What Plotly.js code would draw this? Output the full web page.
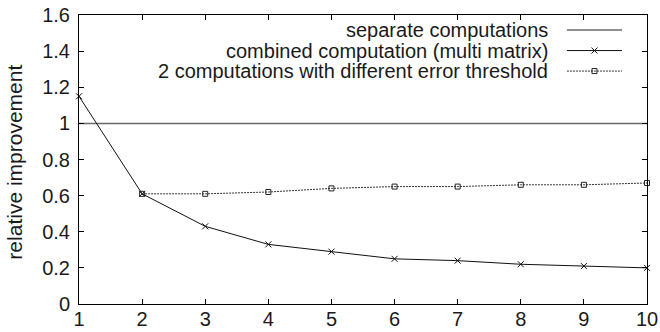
<!DOCTYPE html>
<html>
<head>
<meta charset="utf-8">
<script src="https://cdn.plot.ly/plotly-3.0.1.min.js"></script>
<style>
  html, body { margin: 0; padding: 0; background: #fff; }
  #chart { width: 660px; height: 332px; }
</style>
</head>
<body>
<div id="chart"></div>
<script>
// Number of matrices processed together
const matrices = [1, 2, 3, 4, 5, 6, 7, 8, 9, 10];

// Relative improvement for each strategy
const separate = [1, 1, 1, 1, 1, 1, 1, 1, 1, 1];
const combinedMulti = [1.15, 0.61, 0.43, 0.33, 0.29, 0.25, 0.24, 0.22, 0.21, 0.20];
const thresholdX = [2, 3, 4, 5, 6, 7, 8, 9, 10];
const twoThreshold = [0.61, 0.61, 0.62, 0.64, 0.65, 0.65, 0.66, 0.66, 0.67];

const seriesNames = [
  'separate computations',
  'combined computation (multi matrix)',
  '2 computations with different error threshold'
];

const xTicks = [1, 2, 3, 4, 5, 6, 7, 8, 9, 10];
const yTicks = [0, 0.2, 0.4, 0.6, 0.8, 1, 1.2, 1.4, 1.6];
const yTickText = ['0', '0.2', '0.4', '0.6', '0.8', '1', '1.2', '1.4', '1.6'];

const FONT = 'Liberation Sans, Arial, Helvetica, sans-serif';
const TXT = '#1a1a1a';

// Series styles (gnuplot-like)
const styles = [
  { line: { color: '#6a6a6a', width: 1.5 }, mode: 'lines' },
  { line: { color: '#111', width: 1 }, mode: 'lines+markers',
    marker: { symbol: 'x-thin-open', size: 6, color: '#111', line: { color: '#111', width: 1 } } },
  { line: { color: '#333', width: 1, dash: '2px,1px' }, mode: 'lines+markers',
    marker: { symbol: 'square-open', size: 5, color: '#222', line: { color: '#222', width: 1 } } }
];

const data = [
  Object.assign({ x: matrices, y: separate, name: seriesNames[0], cliponaxis: false, showlegend: false }, styles[0]),
  Object.assign({ x: matrices, y: combinedMulti, name: seriesNames[1], cliponaxis: false, showlegend: false }, styles[1]),
  Object.assign({ x: thresholdX, y: twoThreshold, name: seriesNames[2], cliponaxis: false, showlegend: false }, styles[2])
];

// Key in the top right corner: right-aligned labels with samples after them
const keyText = 0.829;
const keySample = [0.859, 0.956];
const keyRows = [0.948, 0.877, 0.806];

const annotations = [];
keyRows.forEach((ry, i) => {
  data.push({
    x: keySample, y: [ry, ry], xaxis: 'x2', yaxis: 'y2',
    showlegend: false, hoverinfo: 'skip', cliponaxis: false,
    mode: 'lines', line: styles[i].line
  });
  if (styles[i].marker) {
    data.push({
      x: [(keySample[0] + keySample[1]) / 2], y: [ry], xaxis: 'x2', yaxis: 'y2',
      mode: 'markers', marker: styles[i].marker, showlegend: false, hoverinfo: 'skip'
    });
  }
  annotations.push({
    xref: 'paper', yref: 'paper', x: keyText, y: ry,
    xanchor: 'right', yanchor: 'middle', showarrow: false,
    text: seriesNames[i], font: { family: FONT, size: 20, color: TXT }
  });
});

// Y axis title
annotations.push({
  xref: 'paper', yref: 'paper', x: -0.114, y: 0.49,
  xanchor: 'center', yanchor: 'middle', showarrow: false, textangle: -90,
  text: 'relative improvement', font: { family: FONT, size: 21, color: TXT }
});

const axisCommon = {
  showline: true, linecolor: '#000', linewidth: 1, mirror: 'ticks',
  ticks: 'inside', ticklen: 5, tickwidth: 1, tickcolor: '#000',
  showgrid: false, zeroline: false,
  tickfont: { family: FONT, size: 20, color: TXT }
};

const layout = {
  width: 660, height: 332,
  margin: { l: 79, r: 13, t: 15, b: 28, pad: 0 },
  paper_bgcolor: '#fff', plot_bgcolor: '#fff',
  showlegend: false,
  xaxis: Object.assign({}, axisCommon, {
    range: [1, 10], tickvals: xTicks, ticktext: xTicks.map(String), ticklabelstandoff: -3
  }),
  yaxis: Object.assign({}, axisCommon, {
    range: [0, 1.6], tickvals: yTicks, ticktext: yTickText, ticklabelstandoff: 4
  }),
  xaxis2: { overlaying: 'x', range: [0, 1], visible: false, fixedrange: true },
  yaxis2: { overlaying: 'y', range: [0, 1], visible: false, fixedrange: true },
  annotations: annotations
};

Plotly.newPlot('chart', data, layout, { displayModeBar: false, staticPlot: true });
</script>
</body>
</html>
